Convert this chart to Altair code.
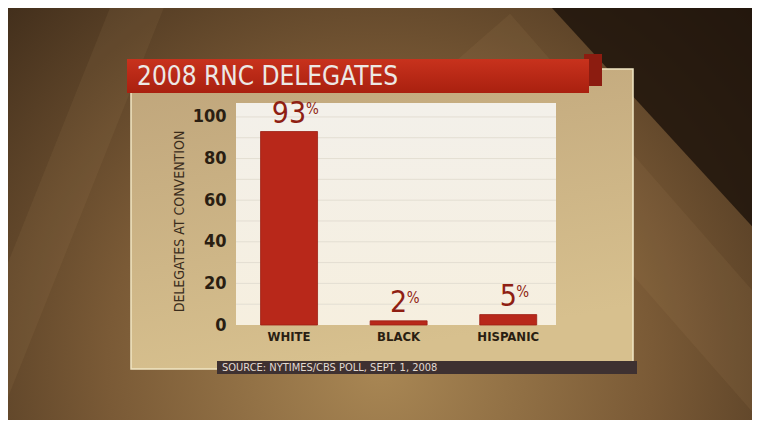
import altair as alt
import pandas as pd

# ---- data ----
categories = ["WHITE", "BLACK", "HISPANIC"]
values = [93, 2, 5]
grid_values = [10, 20, 30, 40, 50, 60, 70, 80, 90, 100]
y_ticks = [0, 10, 20, 30, 40, 50, 60, 70, 80, 90, 100]
title_text = "2008 RNC DELEGATES"
source_text = "SOURCE: NYTIMES/CBS POLL, SEPT. 1, 2008"
y_title = "DELEGATES AT CONVENTION"

df = pd.DataFrame({"cat": categories, "value": values})
df["num"] = df["value"].astype(str)
grid_df = pd.DataFrame({"g": grid_values})
one = pd.DataFrame({"a": [0]})

W, H = 320, 222
OX, OY = 236, 103  # page position of plot origin
FONT = "Liberation Sans Narrow, DejaVu Sans Condensed, Roboto Condensed, Arial Narrow, Liberation Sans, sans-serif"


def px(v):
    return v - OX


def py(v):
    return v - OY


def deco_rect(x1, y1, x2, y2, **kw):
    return alt.Chart(one).mark_rect(**kw).encode(
        x=alt.value(px(x1)), x2=alt.value(px(x2)),
        y=alt.value(py(y1)), y2=alt.value(py(y2)),
    )


def deco_rule(x1, y1, x2, y2, **kw):
    return alt.Chart(one).mark_rule(**kw).encode(
        x=alt.value(px(x1)), x2=alt.value(px(x2)),
        y=alt.value(py(y1)), y2=alt.value(py(y2)),
    )


def deco_text(x, y, text, **kw):
    return alt.Chart(one).mark_text(text=text, **kw).encode(
        x=alt.value(px(x)), y=alt.value(py(y)),
    )


bg = deco_rect(0, 0, 760, 428, color=alt.RadialGradient(
    gradient="radial", x1=0.5, y1=0.7, r1=0.0, x2=0.5, y2=0.7, r2=0.8,
    stops=[alt.GradientStop(color="#a98754", offset=0),
           alt.GradientStop(color="#7a5a36", offset=0.45),
           alt.GradientStop(color="#2e1f12", offset=1)]))

streak_dark = deco_rule(515, -173, 930, 280, color="#1b120a", strokeWidth=190, opacity=0.8)
streak_light = deco_rule(200, -150, -60, 500, color="#d0aa74", strokeWidth=50, opacity=0.08)
streak_light2 = deco_rule(480, 40, 900, 520, color="#c8a070", strokeWidth=80, opacity=0.08)

panel = deco_rect(131, 69, 633, 369, stroke="#f1e6c4", strokeWidth=1.5,
                  color=alt.LinearGradient(
                      gradient="linear", x1=0, y1=0, x2=0.3, y2=1,
                      stops=[alt.GradientStop(color="#bfa57b", offset=0),
                             alt.GradientStop(color="#d7c08e", offset=1)]))

curl = deco_rect(584, 54, 602, 86, color="#8c1c10")
banner = deco_rect(127, 59, 589, 93, color=alt.LinearGradient(
    gradient="linear", x1=0, y1=0, x2=0, y2=1,
    stops=[alt.GradientStop(color="#c8321d", offset=0),
           alt.GradientStop(color="#a9200f", offset=1)]))
banner_text = deco_text(137, 77, title_text, font=FONT, fontSize=26,
                        color="#ece8e5", align="left", baseline="middle")

source_bar = deco_rect(217, 361, 637, 374, color="#3e3131")
source_t = deco_text(222, 367.5, source_text, font=FONT, fontSize=11, color="#e2dad2",
                     align="left", baseline="middle")

plot_bg = alt.Chart(one).mark_rect(color=alt.LinearGradient(
    gradient="linear", x1=0, y1=0, x2=0, y2=1,
    stops=[alt.GradientStop(color="#f3f0ea", offset=0),
           alt.GradientStop(color="#f6efdf", offset=1)])).encode(
    x=alt.value(0), x2=alt.value(W), y=alt.value(0), y2=alt.value(H))

yscale = alt.Scale(domain=[0, 106.7], nice=False, zero=True)
xscale = alt.Scale(domain=categories, paddingInner=0.48, paddingOuter=0.2, align=0.56)

grid = alt.Chart(grid_df).mark_rule(color="#e3ded2", strokeWidth=1).encode(
    y=alt.Y("g:Q", scale=yscale), x=alt.value(0), x2=alt.value(W))

bars = alt.Chart(df).mark_bar(color="#b8281a", stroke="#9c2014", strokeWidth=0.8).encode(
    x=alt.X("cat:N", scale=xscale, sort=categories,
            axis=alt.Axis(title=None, labelFont=FONT, labelFontSize=13, labelFontWeight="bold",
                          labelColor="#2a1e12", labelPadding=5, domain=False, ticks=False,
                          labelAngle=0, zindex=1)),
    y=alt.Y("value:Q", scale=yscale,
            axis=alt.Axis(title=y_title, values=y_ticks, grid=False, domain=False, ticks=False,
                          labelExpr="datum.value % 20 == 0 ? datum.label : ''",
                          labelFont=FONT, labelFontSize=18, labelFontWeight="bold",
                          labelColor="#2a1e12", labelPadding=10,
                          titleFont=FONT, titleFontSize=14, titleFontWeight="normal",
                          titleColor="#3a2c1c", titleAngle=270, titleX=-57, titleY=118,
                          titleAlign="center", titleBaseline="middle", zindex=1)),
)

num = alt.Chart(df).mark_text(font=FONT, fontSize=30, color="#8f1f13", baseline="bottom",
                              align="center", dy=-3).encode(
    x=alt.X("cat:N", scale=xscale, sort=categories),
    y=alt.Y("value:Q", scale=yscale), text="num:N")

pct_two = alt.Chart(df).transform_filter("datum.value >= 10").mark_text(
    font=FONT, fontSize=15, color="#8f1f13", baseline="bottom", align="left",
    dx=17, dy=-15).encode(
    x=alt.X("cat:N", scale=xscale, sort=categories),
    y=alt.Y("value:Q", scale=yscale), text=alt.value("%"))

pct_one = alt.Chart(df).transform_filter("datum.value < 10").mark_text(
    font=FONT, fontSize=15, color="#8f1f13", baseline="bottom", align="left",
    dx=8, dy=-15).encode(
    x=alt.X("cat:N", scale=xscale, sort=categories),
    y=alt.Y("value:Q", scale=yscale), text=alt.value("%"))

chart = alt.layer(
    bg, streak_dark, streak_light, streak_light2, panel, curl, banner,
    banner_text, source_bar, source_t, plot_bg, grid, bars, num, pct_two, pct_one,
).properties(
    width=W, height=H,
    padding={"left": OX - 8, "top": OY - 8, "right": 744 - (OX - 8) - W, "bottom": 412 - (OY - 8) - H},
    autosize=alt.AutoSizeParams(type="none"),
    background="#2a1c10",
).configure_view(stroke=None)

chart.save("out.html", embed_options={"renderer": "svg", "actions": False})
